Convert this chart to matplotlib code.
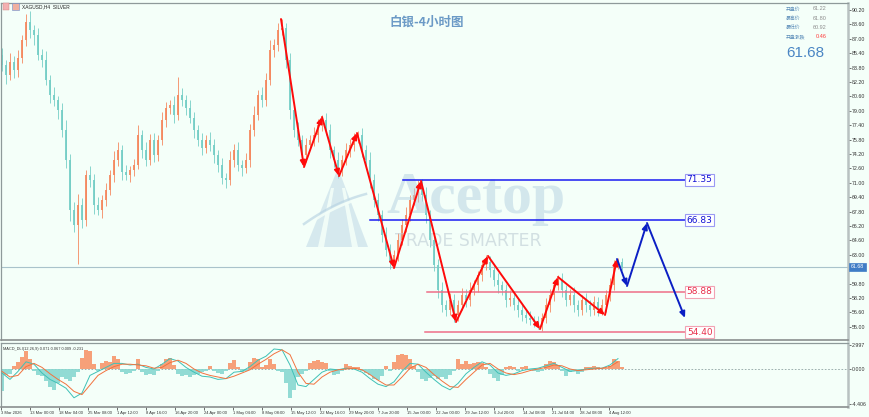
import matplotlib
matplotlib.use('Agg')
import matplotlib.pyplot as plt
import numpy as np
from matplotlib.patches import Polygon, Rectangle
import matplotlib.transforms as mtransforms

plt.rcParams['font.family'] = ['DejaVu Sans', 'Noto Sans CJK SC']

# ---------------- data ----------------
first_open = 85.20
closes = [
    84.09, 82.98, 84.42, 83.53, 84.87, 86.87, 88.87, 87.98, 87.42, 85.20,
    84.64, 82.42, 80.75, 80.20, 79.09, 76.87, 73.53, 67.98, 66.31, 68.53,
    66.87, 71.87, 71.31, 68.53, 67.98, 69.09, 70.20, 71.87, 73.53, 74.64,
    72.20, 71.87, 72.42, 72.98, 76.31, 74.64, 73.53, 75.76, 74.09, 75.76,
    77.98, 79.31, 79.64, 78.53, 80.75, 80.20, 79.31, 78.20, 76.87, 75.76,
    74.87, 75.76, 75.20, 74.09, 72.98, 71.53, 71.31, 73.53, 74.64, 72.98,
    72.64, 73.53, 76.87, 78.53, 80.75, 80.20, 82.42, 85.75, 86.31, 87.98,
    88.20, 84.64, 79.09, 76.87, 75.76, 74.09, 75.20, 75.76, 76.31, 77.42,
    77.98, 76.87, 74.64, 73.53, 72.42, 73.53, 74.64, 75.20, 75.98, 76.31,
    74.64, 73.53, 71.31, 69.09, 67.42, 65.20, 63.53, 62.20, 62.98, 64.64,
    66.31, 67.42, 69.09, 69.64, 70.75, 69.64, 67.42, 64.64, 61.87, 59.09,
    57.42, 56.87, 57.98, 56.31, 57.42, 58.53, 57.98, 59.09, 59.64, 60.75,
    61.87, 62.20, 61.31, 60.20, 59.64, 59.09, 57.98, 58.20, 57.42, 56.87,
    56.31, 55.98, 55.75, 55.53, 55.20, 55.98, 57.42, 58.53, 59.64, 60.20,
    59.09, 57.98, 58.53, 57.42, 56.87, 57.98, 57.42, 56.87, 57.75, 56.87,
    57.42, 58.53, 59.64, 61.87, 62.20, 61.68,
]
upper_wick = [
    0.8, 0.6, 1.0, 0.7, 0.9, 0.6, 0.9, 1.2, 0.5, 0.8,
    0.7, 1.0, 0.6, 0.9, 0.5, 0.8, 1.1, 0.7, 0.9, 1.2,
    0.8, 0.6, 1.0, 0.7, 0.9, 0.5, 0.8, 0.6, 1.0, 0.9,
    0.6, 0.8, 0.5, 0.7, 1.1, 0.6, 0.9, 0.7, 0.8, 0.6,
    0.9, 0.7, 0.6, 1.0, 2.0, 0.8, 0.6, 0.9, 0.7, 0.5,
    0.8, 0.6, 0.9, 0.7, 0.5, 0.8, 0.6, 1.0, 0.7, 0.9,
    0.6, 0.8, 0.7, 1.0, 0.6, 0.9, 0.8, 1.1, 0.7, 0.8,
    1.0, 0.6, 0.8, 0.7, 0.9, 0.5, 0.8, 0.6, 0.9, 0.7,
    0.6, 0.8, 0.7, 0.5, 0.9, 0.6, 0.8, 0.7, 0.6, 0.5,
    0.8, 0.6, 0.9, 0.7, 0.8, 0.6, 0.9, 0.7, 0.6, 0.8,
    0.7, 0.9, 0.6, 0.8, 0.6, 0.7, 0.9, 0.6, 0.8, 0.7,
    0.9, 0.6, 0.8, 0.7, 0.6, 0.8, 0.7, 0.9, 0.6, 0.5,
    0.6, 0.8, 0.7, 0.6, 0.8, 0.5, 0.7, 0.9, 0.6, 0.8,
    0.7, 0.6, 0.8, 0.5, 0.7, 0.6, 0.8, 0.7, 0.6, 0.5,
    0.8, 0.6, 0.7, 0.9, 0.6, 0.5, 0.8, 0.6, 0.7, 0.6,
    0.7, 0.6, 0.8, 0.5, 0.45, 0.4,
]
lower_wick = [
    0.7, 1.0, 0.6, 0.9, 0.8, 0.6, 0.7, 0.9, 1.1, 0.6,
    0.8, 0.6, 0.9, 0.7, 1.0, 0.8, 0.9, 1.2, 0.8, 4.3,
    0.9, 0.7, 0.8, 1.0, 0.6, 0.9, 0.7, 0.6, 0.8, 0.7,
    0.9, 0.6, 0.8, 0.7, 0.5, 0.9, 0.7, 0.6, 0.8, 0.7,
    0.6, 0.8, 0.7, 0.9, 0.6, 0.7, 0.8, 0.6, 0.9, 0.7,
    0.8, 0.6, 0.7, 0.9, 0.8, 0.7, 0.9, 0.6, 0.8, 0.7,
    0.9, 0.6, 0.8, 0.7, 0.6, 0.8, 0.7, 0.6, 0.8, 0.7,
    0.6, 0.9, 1.0, 0.8, 0.7, 1.0, 0.8, 0.6, 0.7, 0.8,
    0.7, 0.6, 0.9, 0.8, 0.9, 0.7, 0.6, 0.8, 0.7, 0.6,
    0.8, 0.7, 0.9, 0.8, 0.7, 0.8, 0.7, 0.8, 0.6, 0.7,
    0.6, 0.8, 0.7, 0.6, 0.8, 0.7, 0.9, 0.8, 0.7, 0.9,
    0.8, 0.7, 0.6, 0.8, 0.7, 0.6, 0.8, 0.7, 0.6, 0.8,
    0.7, 0.6, 0.8, 0.7, 0.9, 0.6, 0.8, 0.7, 0.6, 0.8,
    0.7, 0.6, 0.5, 0.6, 0.45, 0.7, 0.6, 0.8, 0.7, 0.6,
    0.8, 0.7, 0.6, 0.8, 0.7, 0.6, 0.8, 0.7, 0.6, 0.7,
    0.6, 0.8, 0.7, 0.6, 0.5, 0.4,
]
macd_hist = [
    -2.8, -0.8, -0.6, 0.4, 0.9, 1.5, 2.2, 1.2, -0.3, -0.8,
    -0.9, -1.5, -2.2, -2.6, -1.8, -1.0, -1.3, -1.5, -1.0, -0.4,
    1.4, 2.4, 2.2, 0.6, -0.3, 0.8, 1.0, 0.9, 1.6, 1.2,
    -0.4, -0.6, -0.5, -0.2, 1.2, -0.4, -0.7, -0.6, -0.8, -0.3,
    0.6, 1.2, 1.4, 0.5, -0.6, -0.9, -0.8, -1.0, -0.8, -0.6,
    -0.4, -0.2, 0.4, -0.3, -0.5, -0.6, -0.2, 0.8, 1.1, 0.3,
    -0.4, -0.2, 0.9, 1.4, 1.2, 0.3, 0.5, 1.3, 0.6, -0.2,
    -0.4, -1.8, -3.6, -2.6, -1.0, -0.6, -0.3, 0.8, 1.0, 1.1,
    0.9, 0.8, -0.3, -0.7, -0.6, -0.2, 0.6, 0.4, 0.3, 0.2,
    -0.3, -0.5, -0.7, -1.3, -1.4, -0.9, 0.4, -0.3, 0.9, 1.8,
    1.9, 1.8, 1.2, 0.4, -0.4, -1.2, -1.5, -1.1, -0.9, -1.2,
    -1.0, -1.2, -0.8, -0.2, 1.2, 0.6, 1.0, 0.6, 0.8, 0.9,
    0.7, 0.3, -0.6, -1.1, -1.5, -0.7, 0.2, 0.4, 0.3, -0.2,
    0.3, 0.4, -0.1, -0.3, -0.4, -0.2, 0.6, 1.0, 0.9, 0.5,
    -0.3, -0.9, -0.4, -0.3, -0.6, -0.4, 0.2, 0.3, 0.4, 0.2,
    0.1, 0.1, 0.4, 1.2, 1.0, 0.3,
]
# MACD lines sampled every second bar
macd_main = [
    -0.5, -1.3, -0.3, 0.9, 0.6, -0.5, -1.3, -1.8, -2.4, -3.6,
    -3.0, -0.8, -0.3, 0.2, 0.7, 0.7, 0.5, 0.6, 0.2, 0.0,
    0.6, 1.3, 1.0, 0.2, -0.4, -0.9, -1.0, -1.3, -1.2, -0.4,
    -0.3, 0.3, 1.1, 1.6, 2.5, 2.4, 0.5, -2.0, -2.2, -1.3,
    -0.4, 0.0, -0.1, 0.1, 0.0, -0.4, -1.2, -1.9, -2.2, -1.6,
    -0.3, 0.7, 0.6, -0.4, -1.3, -2.1, -2.6, -1.8, -0.6, 0.2,
    0.9, 0.5, -0.5, -0.8, -0.6, -0.2, 0.0, 0.1, 0.4, 0.7,
    0.2, -0.3, -0.2, 0.0, 0.1, 0.1, 0.5, 1.3,
]
macd_signal = [
    -0.3, -1.0, -0.8, 0.3, 0.7, 0.2, -0.6, -1.3, -1.9, -2.8,
    -3.2, -2.0, -0.8, -0.2, 0.3, 0.6, 0.6, 0.5, 0.4, 0.1,
    0.2, 0.8, 1.1, 0.7, 0.0, -0.5, -0.8, -1.0, -1.2, -0.9,
    -0.5, -0.1, 0.6, 1.2, 1.9, 2.4, 1.8, -0.4, -1.8, -1.9,
    -1.0, -0.4, -0.1, 0.0, 0.1, -0.1, -0.7, -1.4, -2.0, -2.0,
    -1.0, 0.1, 0.6, 0.2, -0.7, -1.5, -2.2, -2.3, -1.3, -0.4,
    0.5, 0.7, 0.0, -0.5, -0.7, -0.5, -0.2, 0.0, 0.2, 0.5,
    0.4, 0.0, -0.2, -0.1, 0.0, 0.1, 0.3, 0.9,
]
zz_red_x = [69.75, 75.5, 80, 84.25, 88.75, 98, 104.75, 113.5, 121.5, 134.5, 139, 150.75, 153.75]
zz_red_y = [89.20, 72.75, 78.31, 71.75, 76.53, 61.53, 71.20, 55.53, 62.87, 54.75, 60.53, 56.31, 62.53]
zz_blue_x = [153.75, 156.25, 161.25, 170.75]
zz_blue_y = [62.53, 59.53, 66.53, 55.98]

levels = [71.35, 66.83, 58.88, 54.40]
level_start = [100.25, 92.0, 106.25, 105.75]
level_kind = ['blue', 'blue', 'red', 'red']
level_end = 170.75
current_price = 61.68

price_ticks = [90.20, 88.60, 87.00, 85.40, 83.80, 82.20, 80.60, 79.00, 77.40, 75.80, 74.20,
               72.60, 71.00, 69.40, 67.80, 66.20, 64.60, 63.00, 61.40, 59.80, 58.20, 56.60, 55.00]
macd_ticks = [2.997, 0.000, -4.406]
time_labels = ['3 Mar 2026', '13 Mar 00:00', '18 Mar 04:00', '25 Mar 08:00', '1 Apr 12:00',
               '8 Apr 16:00', '16 Apr 20:00', '24 Apr 00:00', '1 May 04:00', '8 May 08:00',
               '15 May 12:00', '22 May 16:00', '29 May 20:00', '7 Jun 20:00', '15 Jun 00:00',
               '22 Jun 00:00', '29 Jun 12:00', '6 Jul 20:00', '14 Jul 08:00', '21 Jul 04:00',
               '28 Jul 08:00', '4 Aug 12:00']
info_labels = ['开盘价', '最高价', '最低价', '开盘涨跌']
info_values = ['61.22', '61.80', '60.92', '0.46']

# ---------------- layout ----------------
W, H = 870, 417
BG = '#F4FFF9'
BULL = '#F4875E'
BEAR = '#74CEC6'
SMALL = 'Liberation Sans'

def fx(px):
    return px / W

def fy(py):
    return 1 - py / H

fig = plt.figure(figsize=(W / 100, H / 100), dpi=100, facecolor=BG)
ax = fig.add_axes([fx(1), fy(340), fx(848) - fx(1), fy(3) - fy(340)], facecolor=BG)
axm = fig.add_axes([fx(1), fy(407), fx(848) - fx(1), fy(343) - fy(407)], facecolor=BG)

n = len(closes)
idx = np.arange(n)
o = np.array([first_open] + closes[:-1])
c = np.array(closes)
hi = np.maximum(o, c) + np.array(upper_wick)
lo = np.minimum(o, c) - np.array(lower_wick)
cols = np.where(c >= o, BULL, BEAR)

XL = (-0.25, 211.5)
ax.set_xlim(*XL)
ax.set_ylim(53.53, 90.98)

ax.vlines(idx, lo, hi, colors=cols, lw=0.7, alpha=0.85, zorder=2)
ax.bar(idx, np.maximum(np.abs(c - o), 0.08), bottom=np.minimum(o, c), width=0.55,
       color=cols, alpha=0.9, lw=0, zorder=2)

# current price line
ax.axhline(current_price, color='#A9C3CB', lw=0.8, zorder=1.5)

# watermark (figure pixel coords)
tf = fig.transFigure
WM = '#B3D0E1'
ax.text(fx(476), fy(199), 'Acetop', transform=tf, fontsize=43, family='Liberation Serif',
        fontweight='bold', color=WM, alpha=0.5, ha='center', va='center', zorder=3)
ax.text(fx(468), fy(241), 'TRADE SMARTER', transform=tf, fontsize=12.5, color='#BCCBD3',
        alpha=0.6, ha='center', va='center', zorder=3)
tri = Polygon([(fx(338), fy(168)), (fx(306), fy(247)), (fx(368), fy(247))], closed=True,
              transform=tf, fc=WM, ec='none', alpha=0.45, zorder=3)
ax.add_patch(tri)
for sl in ([(331, 188), (334, 188), (324, 247), (318, 247)],
           [(342, 188), (345, 188), (358, 247), (352, 247)]):
    ax.add_patch(Polygon([(fx(a), fy(b)) for a, b in sl], closed=True, transform=tf,
                         fc=BG, ec='none', alpha=0.9, zorder=3.1))
t = np.linspace(0, 1, 30)
sx = 304 + 62 * t
sy = 224 - 30 * t - 14 * t * (1 - t)
ax.plot(fx(sx), fy(sy + 2.5), transform=tf, color=BG, lw=2.5, alpha=0.9, zorder=3.2)
ax.plot(fx(sx), fy(sy), transform=tf, color=WM, lw=1.8, alpha=0.6, zorder=3.3)

# level lines and labels
for lv, xs, kind in zip(levels, level_start, level_kind):
    if kind == 'blue':
        lc, tc, ec = '#1B1BF2', '#1212D4', '#9A9AF4'
    else:
        lc, tc, ec = '#EE6F88', '#E8304C', '#F2A3B4'
    ax.plot([xs, level_end], [lv, lv], color=lc, lw=1.1, zorder=4)
    ax.text(174.4, lv, f'{lv:.2f}', ha='center', va='center', fontsize=6.5, color=tc, zorder=6,
            bbox=dict(boxstyle='square,pad=0.18', fc='white', ec=ec, lw=0.8))

# zigzag arrows
def arrows(xs, ys, color):
    for i in range(len(xs) - 1):
        ax.annotate('', xy=(xs[i + 1], ys[i + 1]), xytext=(xs[i], ys[i]),
                    arrowprops=dict(arrowstyle='-|>,head_length=0.5,head_width=0.22', color=color,
                                    lw=1.4, shrinkA=0, shrinkB=0, mutation_scale=7), zorder=5)

arrows(zz_red_x, zz_red_y, '#FF0A0A')
arrows(zz_blue_x, zz_blue_y, '#0B1FC4')

# axes styling
for a in (ax, axm):
    a.yaxis.tick_right()
    a.tick_params(axis='y', direction='out', length=2, width=0.5, pad=1,
                  labelsize=3.8, colors='#333333')
    for lab in a.get_yticklabels():
        lab.set_family(SMALL)
    for s in ('top', 'left'):
        a.spines[s].set_color('#8E9A9A')
        a.spines[s].set_linewidth(0.9)
    a.spines['right'].set_color('#B8C1C1')
    a.spines['right'].set_linewidth(1.8)
    a.spines['bottom'].set_color('#8A8F8F')
    a.spines['bottom'].set_linewidth(1.2)

ax.set_yticks(price_ticks)
ax.set_yticklabels([f'{v:.2f}' for v in price_ticks], family=SMALL)
ax.set_xticks([])

# price box on axis
trans = mtransforms.blended_transform_factory(ax.transAxes, ax.transData)
ax.text(1.0035, current_price, f'{current_price:.2f}', transform=trans, fontsize=3.8,
        color='white', ha='left', va='center', zorder=10, clip_on=False, family=SMALL,
        bbox=dict(boxstyle='square,pad=0.3', fc='#3F7DC6', ec='#3F7DC6', lw=0.5))

# MACD panel
axm.set_xlim(*XL)
axm.set_ylim(-4.75, 3.25)
axm.axhline(0, color='#8FA3A3', lw=0.6, ls=(0, (2, 2)), zorder=1)
hist = np.array(macd_hist)
axm.bar(idx, hist, width=1.0, color=np.where(hist >= 0, '#F7966B', '#88D7D0'), lw=0,
        alpha=0.9, zorder=2)
idx2 = np.arange(0, n, 2)
axm.plot(idx2, macd_main, color='#3FC1B6', lw=0.7, zorder=3)
axm.plot(idx2, macd_signal, color='#F2733F', lw=0.7, zorder=3)
axm.set_yticks(macd_ticks)
axm.set_yticklabels(['2.997', '0.000', '-4.406'], family=SMALL)
tick_pos = [(1.5 + 28.95 * k - 2) / 4 for k in range(len(time_labels))]
axm.set_xticks(tick_pos)
axm.set_xticklabels(time_labels, family=SMALL)
axm.tick_params(axis='x', direction='out', length=2, width=0.5, pad=1, labelsize=3.0,
                colors='#333333')
for lab in axm.get_xticklabels():
    lab.set_horizontalalignment('left')
axm.text(0.002, 0.93, 'MACD_DLI(12,26,9) 0.071 0.067 0.009 -0.231', transform=axm.transAxes,
         fontsize=2.8, color='#333333', ha='left', va='top', family=SMALL)

# header texts
fig.patches.append(Rectangle((fx(3), fy(10)), fx(6), fy(3) - fy(10), transform=tf,
                             fc='#F3B1B1', ec='#D08080', lw=0.3, figure=fig))
fig.patches.append(Rectangle((fx(12), fy(10)), fx(7), fy(3) - fy(10), transform=tf,
                             fc='#F0B0A0', ec='#6A8FD0', lw=0.4, figure=fig))
fig.text(fx(22), fy(6.5), 'XAGUSD,H4  SILVER', fontsize=3.5, color='#222222',
         ha='left', va='center', family=SMALL)
fig.text(fx(427), fy(22), '白银-4小时图', fontsize=9, color='#6B9AC6', ha='center',
         va='center', fontweight='bold', family=['Noto Sans CJK SC', 'DejaVu Sans'])
ys = [9, 18.3, 27.3, 36.7]
for lab, val, yy in zip(info_labels, info_values, ys):
    fig.text(fx(786), fy(yy), lab, fontsize=3.5, color='#5B8DB9', ha='left', va='center',
             family=['Noto Sans CJK SC', 'DejaVu Sans'])
    red = lab == '开盘涨跌'
    fig.text(fx(816 if red else 813), fy(yy), val, fontsize=4.0,
             color='#FF3B3B' if red else '#8E8E8E', ha='left', va='center', family=SMALL)
fig.text(fx(786), fy(53), f'{current_price:.2f}', fontsize=11, color='#4A86C4',
         ha='left', va='center', family='Liberation Sans')

fig.savefig('out.png', dpi=100, facecolor=BG)
